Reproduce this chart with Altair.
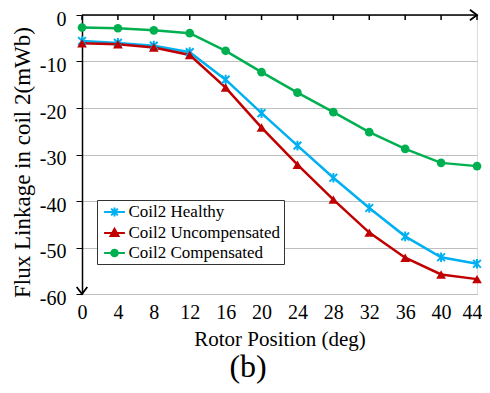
import altair as alt
import pandas as pd

# ---- data ----
angles = [0, 4, 8, 12, 16, 20, 24, 28, 32, 36, 40, 44]
healthy = [-5.6, -6.0, -6.6, -8.0, -13.9, -21.1, -28.1, -35.0, -41.5, -47.6, -52.1, -53.5]
uncompensated = [-6.1, -6.3, -7.0, -8.6, -15.6, -24.2, -32.2, -39.7, -46.8, -52.2, -55.8, -56.8]
compensated = [-2.7, -2.85, -3.3, -3.9, -7.7, -12.3, -16.7, -20.9, -25.2, -28.8, -31.8, -32.5]
series_names = ["Coil2 Healthy", "Coil2 Uncompensated", "Coil2 Compensated"]
x_ticks = [0, 4, 8, 12, 16, 20, 24, 28, 32, 36, 40, 44]
y_ticks = [0, -10, -20, -30, -40, -50, -60]

# ---- styling ----
FONT = "Liberation Serif"
colors = ["#00b0f0", "#c00000", "#00b050"]
ASTERISK = "M -1 -1 L 1 1 M -1 1 L 1 -1 M 0 -1.25 L 0 1.25"
plot_shapes = [ASTERISK, "triangle-up", "circle"]
plot_sizes = [60, 95, 75]
plot_filled = [False, True, True]
legend_paths = [
    "M -1.3 0 L 1.3 0 M -0.42 -0.42 L 0.42 0.42 M -0.42 0.42 L 0.42 -0.42 M 0 -0.55 L 0 0.55",
    "M -1.3 0 L 1.3 0 M -0.5 0.36 L 0 -0.52 L 0.5 0.36 Z",
    "M -1.3 0 L 1.3 0 M 0.42 0 A 0.42 0.42 0 1 1 -0.42 0 A 0.42 0.42 0 1 1 0.42 0 Z",
]

frames = []
for name, vals in zip(series_names, [healthy, uncompensated, compensated]):
    frames.append(pd.DataFrame({"angle": angles, "flux": vals, "series": name}))
df = pd.concat(frames, ignore_index=True)
ticks_df = pd.DataFrame({"t": x_ticks})
one = pd.DataFrame({"k": [0]})

xscale = alt.Scale(domain=[0, 44], nice=False, zero=False)
yscale = alt.Scale(domain=[-60, 0], nice=False, zero=False)

x_axis = alt.Axis(
    values=x_ticks, orient="bottom", domain=False, ticks=False, grid=False,
    labelFont=FONT, labelFontSize=20, labelColor="black", labelPadding=8, labelAngle=0,
    labelFlush=False, labelOverlap=False,
    labelOffset={"condition": {"test": "datum.value == 44", "value": -5}, "value": 0},
    title="Rotor Position (deg)", titleFont=FONT, titleFontSize=21,
    titleFontWeight="normal", titleColor="black", titlePadding=6,
)
y_axis = alt.Axis(
    values=y_ticks, domain=True, domainColor="black", domainWidth=1.5,
    ticks=True, tickColor="black", tickSize=6, tickWidth=1,
    grid=True, gridColor="#bfbfbf", gridWidth=1,
    labelFont=FONT, labelFontSize=20, labelColor="black", labelPadding=10,
    labelOffset=4, labelFlush=False, labelOverlap=False,
    labelExpr="datum.value == 0 ? '0' : '-' + abs(datum.value)",
    title="Flux Linkage in coil 2(mWb)", titleFont=FONT, titleFontSize=23,
    titleFontWeight="normal", titleColor="black", titlePadding=5, titleY=147,
)


def X(field):
    return alt.X(field, scale=xscale, axis=x_axis)


def Y(field):
    return alt.Y(field, scale=yscale, axis=y_axis)


def XD(v):
    return alt.XDatum(v, type="quantitative", scale=xscale, axis=x_axis)


def YD(v):
    return alt.YDatum(v, type="quantitative", scale=yscale, axis=y_axis)


layers = []
for name, col in zip(series_names, colors):
    layers.append(
        alt.Chart(df).transform_filter(alt.datum.series == name)
        .mark_line(color=col, strokeWidth=2.5)
        .encode(x=X("angle:Q"), y=Y("flux:Q"))
    )
for name, col, shp, sz, fl in zip(series_names, colors, plot_shapes, plot_sizes, plot_filled):
    layers.append(
        alt.Chart(df).transform_filter(alt.datum.series == name)
        .mark_point(shape=shp, size=sz, filled=fl, color=col, opacity=1, strokeWidth=2)
        .encode(x=X("angle:Q"), y=Y("flux:Q"))
    )

# top axis line with downward ticks and arrow heads
layers.append(
    alt.Chart(one).mark_rule(color="black", strokeWidth=1.5).encode(
        x=XD(0), x2=alt.X2Datum(44), y=YD(0)
    )
)
layers.append(
    alt.Chart(ticks_df).mark_rule(color="black", strokeWidth=1.5).encode(
        x=X("t:Q"), y=alt.value(0), y2=alt.value(5)
    )
)
layers.append(
    alt.Chart(one).mark_point(
        shape="M -1 -0.75 L 0 0 L -1 0.75", size=200, filled=False,
        color="black", strokeWidth=1.8, opacity=1,
    ).encode(x=XD(44), y=YD(0))
)
layers.append(
    alt.Chart(one).mark_point(
        shape="M -0.75 -1 L 0 0 L 0.75 -1", size=200, filled=False,
        color="black", strokeWidth=1.8, opacity=1,
    ).encode(x=XD(0), y=YD(-60))
)

# legend layer (no marks drawn, only legend)
leg = alt.Legend(
    title=None, orient="none", legendX=15, legendY=185,
    symbolSize=256, symbolStrokeWidth=2, symbolOffset=5.5,
    labelFont=FONT, labelFontSize=17, labelColor="black", labelOffset=5,
    rowPadding=3, padding=3, fillColor="white", strokeColor="#333333",
)
layers.append(
    alt.Chart(df).transform_filter("false")
    .mark_point(filled=True, opacity=1, strokeWidth=2)
    .encode(
        x=X("angle:Q"), y=Y("flux:Q"),
        shape=alt.Shape("series:N", scale=alt.Scale(domain=series_names, range=legend_paths), legend=leg),
        fill=alt.Fill("series:N", scale=alt.Scale(domain=series_names, range=colors), legend=leg),
        stroke=alt.Stroke("series:N", scale=alt.Scale(domain=series_names, range=colors), legend=leg),
    )
)

chart = alt.layer(*layers).properties(
    width=395, height=279,
    autosize=alt.AutoSizeParams(type="none"),
    padding={"left": 74, "top": 7, "right": 5, "bottom": 91},
    title=alt.TitleParams(
        text="(b)", orient="bottom", anchor="middle", frame="bounds",
        font=FONT, fontSize=32, fontWeight="normal", color="black", offset=3,
    ),
).configure_view(stroke=None).configure(background="white", font=FONT).configure_legend(
    labelFont=FONT, labelFontSize=17, labelColor="black"
)

chart.save("out.html", embed_options={"renderer": "svg", "actions": False})
